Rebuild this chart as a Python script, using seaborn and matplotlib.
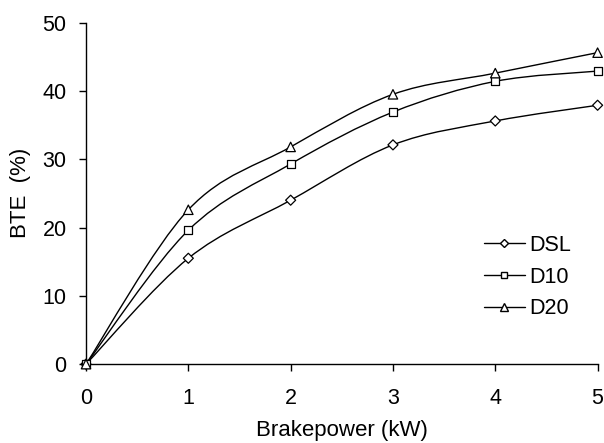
import numpy as np
import pandas as pd
import seaborn as sns
from matplotlib import pyplot as plt
from matplotlib.path import Path
from matplotlib.patches import PathPatch
from matplotlib.lines import Line2D

# brake power (kW) and brake thermal efficiency (%)
power = [0, 1, 2, 3, 4, 5]
bte_dsl = [0, 15.5, 24.0, 32.1, 35.6, 37.9]
bte_d10 = [0, 19.6, 29.3, 36.9, 41.4, 42.9]
bte_d20 = [0, 22.6, 31.8, 39.5, 42.6, 45.6]
fuels = ['DSL', 'D10', 'D20']
fuel_markers = {'DSL': 'D', 'D10': 's', 'D20': '^'}
fuel_sizes = {'DSL': 26, 'D10': 34, 'D20': 46}

series = {'DSL': bte_dsl, 'D10': bte_d10, 'D20': bte_d20}
df = pd.concat([pd.DataFrame({'power': power, 'bte': v, 'fuel': k})
                for k, v in series.items()], ignore_index=True)

sns.set_style('ticks')
plt.rcParams['font.family'] = ['Liberation Sans', 'DejaVu Sans']
plt.rcParams['text.color'] = 'black'
plt.rcParams['axes.labelcolor'] = 'black'
plt.rcParams['xtick.color'] = 'black'
plt.rcParams['ytick.color'] = 'black'

fig = plt.figure(figsize=(6.04, 4.43), dpi=100)
ax = fig.add_axes([0.1424, 0.178, 0.847, 0.771])


def smooth_path(x, y):
    # excel style smoothed line (bezier, 1/6 tangents)
    x = np.asarray(x, float)
    y = np.asarray(y, float)
    n = len(x)
    verts = [(x[0], y[0])]
    codes = [Path.MOVETO]
    for i in range(n - 1):
        i0 = max(i - 1, 0)
        i3 = min(i + 2, n - 1)
        c1 = (x[i] + (x[i + 1] - x[i0]) / 6, y[i] + (y[i + 1] - y[i0]) / 6)
        c2 = (x[i + 1] - (x[i3] - x[i]) / 6, y[i + 1] - (y[i3] - y[i]) / 6)
        verts += [c1, c2, (x[i + 1], y[i + 1])]
        codes += [Path.CURVE4] * 3
    return Path(verts, codes)


for f in fuels:
    ax.add_patch(PathPatch(smooth_path(power, series[f]), facecolor='none',
                           edgecolor='black', lw=1.0, zorder=2))

sns.scatterplot(data=df, x='power', y='bte', style='fuel', markers=fuel_markers,
                size='fuel', sizes=fuel_sizes,
                color='white', edgecolor='black', linewidth=0.9,
                legend=False, ax=ax, zorder=3, clip_on=False)

ax.set_xlim(0, 5)
ax.set_ylim(0, 50)
ax.set_xticks(range(0, 6))
ax.set_yticks(range(0, 51, 10))
sns.despine(ax=ax)
ax.spines['left'].set_linewidth(1.0)
ax.spines['bottom'].set_linewidth(1.0)
ax.spines['left'].set_color('black')
ax.spines['bottom'].set_color('black')
ax.tick_params(axis='both', direction='out', length=5, width=1.0,
               labelsize=15.5, colors='black')
ax.tick_params(axis='x', pad=12)
ax.tick_params(axis='y', pad=9)
ax.set_xlabel('Brakepower (kW)', fontsize=16, labelpad=8)
ax.set_ylabel('BTE  (%)', fontsize=16, labelpad=8)

handles = [Line2D([], [], color='black', lw=1.0, marker=fuel_markers[f],
                  markerfacecolor='white', markeredgecolor='black',
                  markersize=np.sqrt(fuel_sizes[f]) * 0.85)
           for f in fuels]
ax.legend(handles, fuels, loc='upper left', bbox_to_anchor=(0.74, 0.435),
          frameon=False, fontsize=15.5, handlelength=1.9, handletextpad=0.2,
          labelspacing=0.5)

plt.savefig('out.png', dpi=100)
plt.close()
